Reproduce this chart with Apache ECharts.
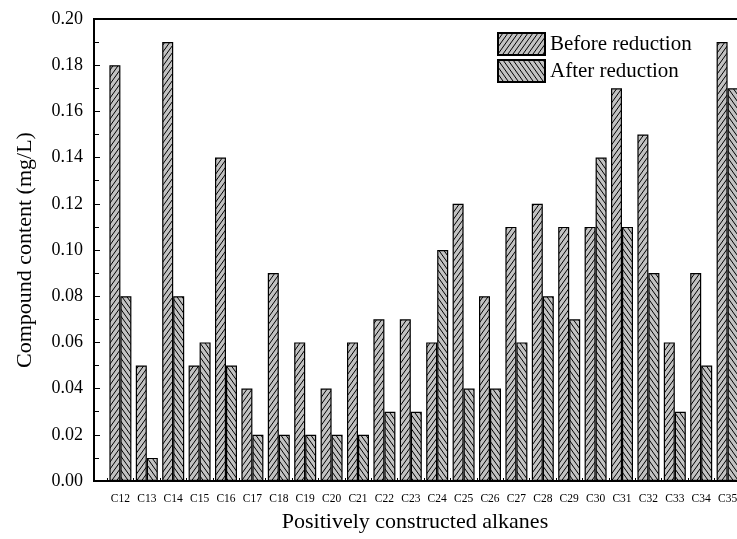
<!DOCTYPE html>
<html>
<head>
<meta charset="utf-8">
<script src="https://cdn.jsdelivr.net/npm/echarts@6/dist/echarts.min.js"></script>
<style>
  html, body { margin: 0; padding: 0; background: #fff; overflow: hidden; }
  #wrap { width: 737px; height: 539px; overflow: hidden; }
  #chart { width: 757px; height: 539px; }
</style>
</head>
<body>
<div id="wrap"><div id="chart"></div></div>
<script>
// Alkane carbon numbers on the x axis
const categories = ['C12','C13','C14','C15','C16','C17','C18','C19','C20','C21','C22','C23',
                    'C24','C25','C26','C27','C28','C29','C30','C31','C32','C33','C34','C35'];
// Compound content (mg/L)
const beforeReduction = [0.18,0.05,0.19,0.05,0.14,0.04,0.09,0.06,0.04,0.06,0.07,0.07,
                         0.06,0.12,0.08,0.11,0.12,0.11,0.11,0.17,0.15,0.06,0.09,0.19];
const afterReduction  = [0.08,0.01,0.08,0.06,0.05,0.02,0.02,0.02,0.02,0.02,0.03,0.03,
                         0.10,0.04,0.04,0.06,0.08,0.07,0.14,0.11,0.09,0.03,0.05,0.17];
const yTicks = ['0.00','0.02','0.04','0.06','0.08','0.10','0.12','0.14','0.16','0.18','0.20'];
const seriesNames = ['Before reduction', 'After reduction'];

const FONT = '"Liberation Serif", "Times New Roman", serif';

// Gray hatch tile: dir = 1 draws '/', dir = -1 draws '\'
function hatchTile(dir) {
  const w = 5, h = 7;
  const c = document.createElement('canvas');
  c.width = w; c.height = h;
  const ctx = c.getContext('2d');
  ctx.fillStyle = '#c2c2c2';
  ctx.fillRect(0, 0, w, h);
  ctx.strokeStyle = '#000';
  ctx.lineWidth = 1;
  ctx.beginPath();
  for (let k = -1; k <= 1; k++) {
    const ox = k * w;
    if (dir > 0) {
      ctx.moveTo(ox - w, 2 * h); ctx.lineTo(ox + 2 * w, -h);
    } else {
      ctx.moveTo(ox - w, -h); ctx.lineTo(ox + 2 * w, 2 * h);
    }
  }
  ctx.stroke();
  return { image: c, repeat: 'repeat' };
}

const fwdPattern = hatchTile(1);
const backPattern = hatchTile(-1);

const toPoints = arr => arr.map((v, i) => [i, v]);

const chart = echarts.init(document.getElementById('chart'), null, { renderer: 'canvas' });

chart.setOption({
  backgroundColor: '#fff',
  animation: false,
  grid: {
    left: 94, top: 19, right: 0.5, bottom: 58,
    show: true, borderColor: '#000', borderWidth: 2, backgroundColor: 'transparent'
  },
  legend: {
    orient: 'vertical',
    left: 497, top: 32,
    itemWidth: 47, itemHeight: 22, itemGap: 3, itemTextGap: 4,
    icon: 'rect',
    padding: 0,
    textStyle: { fontFamily: FONT, fontSize: 21, color: '#000' },
    data: seriesNames
  },
  xAxis: {
    type: 'value',
    min: -1, max: 24, interval: 1,
    splitLine: { show: false },
    axisLine: { show: true, onZero: false, lineStyle: { color: '#000', width: 2 } },
    axisTick: { show: false, inside: true },
    minorTick: { show: true, splitNumber: 2, length: 3, lineStyle: { color: '#000', width: 1 } },
    minorSplitLine: { show: false },
    axisLabel: {
      margin: 12,
      fontFamily: FONT, fontSize: 11.5, color: '#000',
      showMinLabel: true, showMaxLabel: true,
      formatter: v => {
        const i = Math.round(v);
        return categories[i] !== undefined ? categories[i] : '';
      }
    }
  },
  yAxis: {
    type: 'value',
    min: 0, max: 0.2, interval: 0.02,
    name: 'Compound content (mg/L)',
    nameLocation: 'middle',
    nameGap: 58,
    nameRotate: 90,
    nameTextStyle: { fontFamily: FONT, fontSize: 22, color: '#000' },
    splitLine: { show: false },
    axisLine: { show: true, onZero: false, lineStyle: { color: '#000', width: 2 } },
    axisTick: { show: true, inside: true, length: 6, lineStyle: { color: '#000', width: 1 } },
    minorTick: { show: true, splitNumber: 2, length: 5, lineStyle: { color: '#000', width: 1 } },
    axisLabel: {
      margin: 11,
      fontFamily: FONT, fontSize: 18, color: '#000',
      formatter: v => yTicks[Math.round(v / 0.02)]
    }
  },
  graphic: [{
    type: 'text',
    x: 415, y: 522,
    style: {
      text: 'Positively constructed alkanes',
      font: '22px ' + FONT,
      fill: '#000',
      textAlign: 'center',
      textVerticalAlign: 'middle'
    }
  }],
  series: [
    {
      name: seriesNames[0],
      type: 'bar',
      barWidth: 11,
      barGap: '0%',
      data: toPoints(beforeReduction),
      itemStyle: { color: fwdPattern, borderColor: '#000', borderWidth: 1.2 }
    },
    {
      name: seriesNames[1],
      type: 'bar',
      barWidth: 11,
      barGap: '0%',
      data: toPoints(afterReduction),
      itemStyle: { color: backPattern, borderColor: '#000', borderWidth: 1.2 }
    }
  ]
});
</script>
</body>
</html>
